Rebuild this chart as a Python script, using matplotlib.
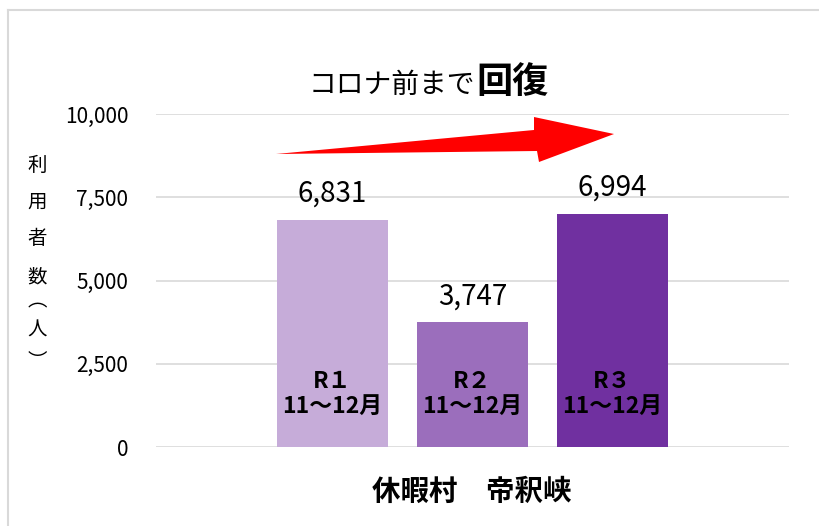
"""Bar chart: visitors to 休暇村 帝釈峡, Nov-Dec of R1 / R2 / R3.

Writes out.png (820x526).
"""

import matplotlib

matplotlib.use("Agg")

import matplotlib.pyplot as plt
from matplotlib.patches import Polygon


plt.rcParams["font.family"] = ["Noto Sans CJK JP", "DejaVu Sans"]

# Data.
PERIODS = ["R１\n11～12月", "R２\n11～12月", "R３\n11～12月"]
VISITORS = [6831, 3747, 6994]
Y_TICKS = [0, 2500, 5000, 7500, 10000]
CATEGORY = "休暇村　帝釈峡"
Y_LABEL = ["利", "用", "者", "数", "︵", "人", "︶"]

BAR_COLORS = ["#C6ACD9", "#9B6EBC", "#7030A0"]
GRID_COLOR = "#D9D9D9"

W, H = 820, 526


def px(x, y):
    """Pixel position (top-left origin) -> figure fraction."""
    return x / W, 1 - y / H


def main():
    fig = plt.figure(figsize=(W / 100, H / 100), dpi=100)
    ax = fig.add_axes([156 / W, 1 - 447 / H, (789 - 156) / W, (447 - 114) / H])

    xs = range(len(VISITORS))
    bars = ax.bar(xs, VISITORS, width=0.79, color=BAR_COLORS, zorder=2)
    ax.set_xlim(-1.26, 3.26)
    ax.set_ylim(0, 10000)

    # Value labels above the bars, period labels inside them.
    for bar, value, period in zip(bars, VISITORS, PERIODS):
        cx = bar.get_x() + bar.get_width() / 2
        ax.annotate("{:,}".format(value), (cx, value), xytext=(0, 8),
                    textcoords="offset points", ha="center", va="bottom",
                    fontsize=20)
        ax.text(cx, 1600, period, ha="center", va="center", fontsize=16.5,
                fontweight="bold", linespacing=1.1, zorder=3)

    ax.set_yticks(Y_TICKS)
    ax.set_yticklabels(["{:,}".format(t) for t in Y_TICKS], fontsize=15)
    ax.set_xticks([])
    ax.tick_params(axis="y", length=0, pad=20)
    ax.grid(axis="y", color=GRID_COLOR, linewidth=1.2, zorder=0)
    for side in ax.spines.values():
        side.set_visible(False)

    # Vertical y-axis title, one character per line.
    y_pos = [165, 202, 239, 277, 301, 330, 362]
    for ch, y in zip(Y_LABEL, y_pos):
        fig.text(*px(37, y), ch, ha="center", va="center", fontsize=14)

    fig.text(*px(472, 492), CATEGORY, ha="center", va="center",
             fontsize=20.5, fontweight="bold")

    # Title: regular part + bold, larger 回復.
    fig.text(*px(475, 93), "コロナ前まで", ha="right", va="baseline", fontsize=20)
    fig.text(*px(476, 93), "回復", ha="left", va="baseline", fontsize=26,
             fontweight="bold")

    # Red trend arrow (decoration drawn in pixel space).
    arrow = [(276, 154), (534, 130), (534, 117), (614, 134),
             (539, 162), (537, 151)]
    fig.patches.append(Polygon([px(x, y) for x, y in arrow], closed=True,
                               facecolor="#FF0000", edgecolor="none",
                               transform=fig.transFigure, figure=fig))

    # Chart-area border (only top and left edges are inside the picture).
    fig.add_artist(plt.Line2D([8 / W, 1], [1 - 10 / H] * 2, color=GRID_COLOR,
                              linewidth=1.5, transform=fig.transFigure))
    fig.add_artist(plt.Line2D([8 / W] * 2, [0, 1 - 10 / H], color=GRID_COLOR,
                              linewidth=1.5, transform=fig.transFigure))

    fig.savefig("out.png", dpi=100, facecolor="white")


if __name__ == "__main__":
    main()
